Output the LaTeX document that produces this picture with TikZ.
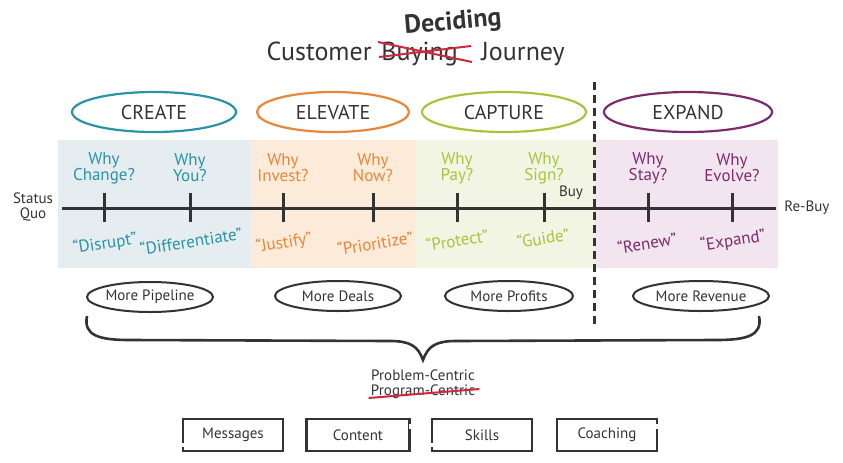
\documentclass[tikz,border=0pt]{standalone}
\usepackage{fontspec}
\setmainfont{PT Sans}
\usetikzlibrary{shapes.geometric}
\definecolor{p1}{HTML}{2A93A4}
\definecolor{p2}{HTML}{E8863A}
\definecolor{p3}{HTML}{A9C43C}
\definecolor{p4}{HTML}{7C2C6C}
\definecolor{b1}{HTML}{E5EDF1}
\definecolor{b2}{HTML}{FDEBDA}
\definecolor{b3}{HTML}{F2F5E3}
\definecolor{b4}{HTML}{F2E5EF}
\definecolor{ink}{HTML}{333333}
\definecolor{redpen}{HTML}{D0283C}

\begin{document}
\begin{tikzpicture}[x=0.5pt,y=-0.5pt,
  stage/.style={ellipse,draw,line width=1.1pt,inner sep=0pt,minimum height=20pt,text=ink,font=\fontsize{10}{10}\selectfont},
  why/.style={align=center,inner sep=0pt,font=\fontsize{8.5}{8}\selectfont},
  quote/.style={inner sep=0pt,rotate=9,font=\fontsize{8.5}{8.5}\selectfont},
  gain/.style={ellipse,draw=ink,line width=1pt,inner sep=0pt,minimum height=15pt,text=ink,font=\fontsize{7.5}{7.5}\selectfont},
  tool/.style={rectangle,draw=ink,line width=1.2pt,inner sep=0pt,minimum height=16pt,minimum width=50pt,text=ink,font=\fontsize{7.5}{7.5}\selectfont},
  plain/.style={inner sep=0pt,text=ink,font=\fontsize{7.5}{7.5}\selectfont},
  strike/.style={redpen,line width=1pt},
  tick/.style={ink,line width=1.5pt}]
\useasboundingbox (0,0) rectangle (843,462);

% phase backgrounds
\fill[b1] (58,140) rectangle (251,268);
\fill[b2] (251,140) rectangle (415,268);
\fill[b3] (415,140) rectangle (595,268);
\fill[b4] (595,140) rectangle (778,268);

% title
\node[anchor=base east,inner sep=0pt,text=ink,font=\fontsize{13}{13}\selectfont] (cust) at (372,60) {Customer};
\node[anchor=base west,inner sep=0pt,text=ink,font=\fontsize{13}{13}\selectfont] (buying) at (381,60) {Buying};
\node[anchor=base west,inner sep=0pt,text=ink,font=\fontsize{13}{13}\selectfont] (journey) at (481,60) {Journey};
\draw[strike] (378,42) -- (472,62);
\draw[strike] (379,57) -- (471,46);
\node[inner sep=0pt,rotate=5,text=ink,font=\fontsize{13}{13}\selectfont\bfseries] (deciding) at (453,23) {Deciding};

% stages
\node[stage,draw=p1,minimum width=82pt] (create) at (154,112) {CREATE};
\node[stage,draw=p2,minimum width=76pt] (elevate) at (333,112) {ELEVATE};
\node[stage,draw=p3,minimum width=82pt] (capture) at (504,112) {CAPTURE};
\node[stage,draw=p4,minimum width=84pt] (expand) at (688,112) {EXPAND};

% the buy line
\coordinate (top) at (594,82);
\coordinate (bottom) at (594,326);
\draw[ink,line width=1.5pt,dash pattern=on 4pt off 2.5pt] (top) -- (bottom);

% timeline
\coordinate (sq) at (62,208);
\coordinate (rb) at (776,208);
\draw[ink,line width=1.5pt] (sq) -- (rb);
\node[plain,align=center] (status) at (33,207) {Status\\Quo};
\node[plain,anchor=west] (rebuy) at (784,208) {Re-Buy};
\node[plain] (buy) at (571,193) {Buy};

\draw[tick] (104,193) -- (104,222);
\draw[tick] (190,193) -- (190,222);
\draw[tick] (283,193) -- (283,222);
\draw[tick] (373,193) -- (373,222);
\draw[tick] (457,193) -- (457,222);
\draw[tick] (544,193) -- (544,222);
\draw[tick] (648,193) -- (648,222);
\draw[tick] (732,193) -- (732,222);

% questions
\node[why,text=p1] (q1) at (104,168) {Why\\Change?};
\node[why,text=p1] (q2) at (190,168) {Why\\You?};
\node[why,text=p2] (q3) at (283,168) {Why\\Invest?};
\node[why,text=p2] (q4) at (373,168) {Why\\Now?};
\node[why,text=p3] (q5) at (457,168) {Why\\Pay?};
\node[why,text=p3] (q6) at (544,168) {Why\\Sign?};
\node[why,text=p4] (q7) at (648,168) {Why\\Stay?};
\node[why,text=p4] (q8) at (732,168) {Why\\Evolve?};

% verbs
\node[quote,text=p1] (v1) at (105,244) {“Disrupt”};
\node[quote,text=p1] (v2) at (191,241) {“Differentiate”};
\node[quote,text=p2] (v3) at (284,243) {“Justify”};
\node[quote,text=p2] (v4) at (375,243) {“Prioritize”};
\node[quote,text=p3] (v5) at (457,240) {“Protect”};
\node[quote,text=p3] (v6) at (543,238) {“Guide”};
\node[quote,text=p4] (v7) at (647,243) {“Renew”};
\node[quote,text=p4] (v8) at (733,241) {“Expand”};

% outcomes
\node[gain,minimum width=63pt] (pipe) at (150,297) {More Pipeline};
\node[gain,minimum width=63pt] (deals) at (338,296) {More Deals};
\node[gain,minimum width=64pt] (profit) at (509,296) {More Profits};
\node[gain,minimum width=68pt] (revenue) at (701,296) {More Revenue};

% brace
\coordinate (bl) at (87,316);
\coordinate (tip) at (423,360);
\coordinate (br) at (759,316);
\draw[ink,line width=1.3pt] (bl) .. controls (83,336) and (100,340) .. (130,340) -- (390,341)
  .. controls (410,341) and (418,346) .. (tip)
  .. controls (428,346) and (436,341) .. (456,341) -- (716,340)
  .. controls (746,340) and (763,336) .. (br);

\node[plain] (problem) at (423,375) {Problem-Centric};
\node[plain] (program) at (423,392) {Program-Centric};
\draw[strike] ([shift={(-2,6)}]program.west) -- ([shift={(4,-3)}]program.east);

% tools
\node[tool] (msg) at (233,435) {Messages};
\node[tool,minimum width=51.5pt] (content) at (358,435) {Content};
\node[tool] (skills) at (482,435) {Skills};
\node[tool] (coach) at (607,435) {Coaching};
\draw[white,line width=2pt] ([yshift=2.5pt]msg.south west) -- ([yshift=4.5pt]msg.south west);
\draw[white,line width=2pt] ([yshift=-3pt]content.north east) -- ([yshift=-5.5pt]content.north east);
\draw[white,line width=2pt] ([yshift=2.5pt]skills.south west) -- ([yshift=4.5pt]skills.south west);
\draw[white,line width=2pt] ([yshift=-3pt]coach.north east) -- ([yshift=-5.5pt]coach.north east);
\end{tikzpicture}
\end{document}
